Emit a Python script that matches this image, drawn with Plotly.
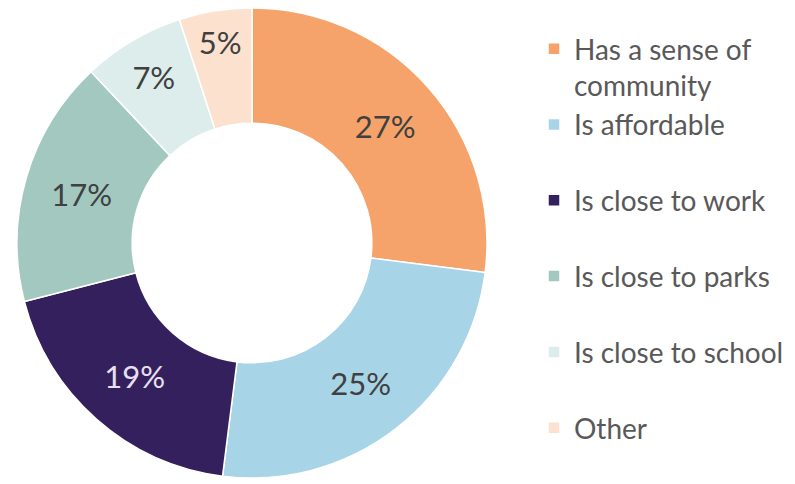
import plotly.graph_objects as go

labels = ["Has a sense of<br>community", "Is affordable<br> ", "Is close to work<br> ",
          "Is close to parks<br> ", "Is close to school<br> ", "Other"]
values = [27, 25, 19, 17, 7, 5]
colors = ["#F5A36B", "#A8D4E7", "#35205E", "#A3C8C0", "#DCEDEB", "#FCE1CF"]
text_colors = ["#404040", "#404040", "#E8E0F2", "#404040", "#404040", "#404040"]

W, H = 795, 484

fig = go.Figure(go.Pie(
    labels=labels,
    values=values,
    hole=0.51,
    sort=False,
    direction="clockwise",
    rotation=0,
    marker=dict(colors=colors, line=dict(color="white", width=1.5)),
    texttemplate="%{value}%",
    textposition="inside",
    insidetextorientation="horizontal",
    insidetextfont=dict(color=text_colors, size=31, family="Lato"),
    domain=dict(x=[17 / W, 487 / W], y=[6 / H, 476 / H]),
))

fig.update_layout(
    width=W, height=H,
    margin=dict(l=0, r=0, t=0, b=0),
    paper_bgcolor="white",
    plot_bgcolor="white",
    font=dict(family="Lato", color="#595959"),
    showlegend=True,
    legend=dict(
        x=534 / W, xanchor="left",
        y=1 - 24 / H, yanchor="top",
        font=dict(size=28, color="#595959", family="Lato"),
        valign="top",
        bgcolor="rgba(0,0,0,0)",
    ),
)

fig.write_html("out.html", config={"displayModeBar": False},
               post_script="document.body.style.margin='0';document.body.style.padding='0';")
